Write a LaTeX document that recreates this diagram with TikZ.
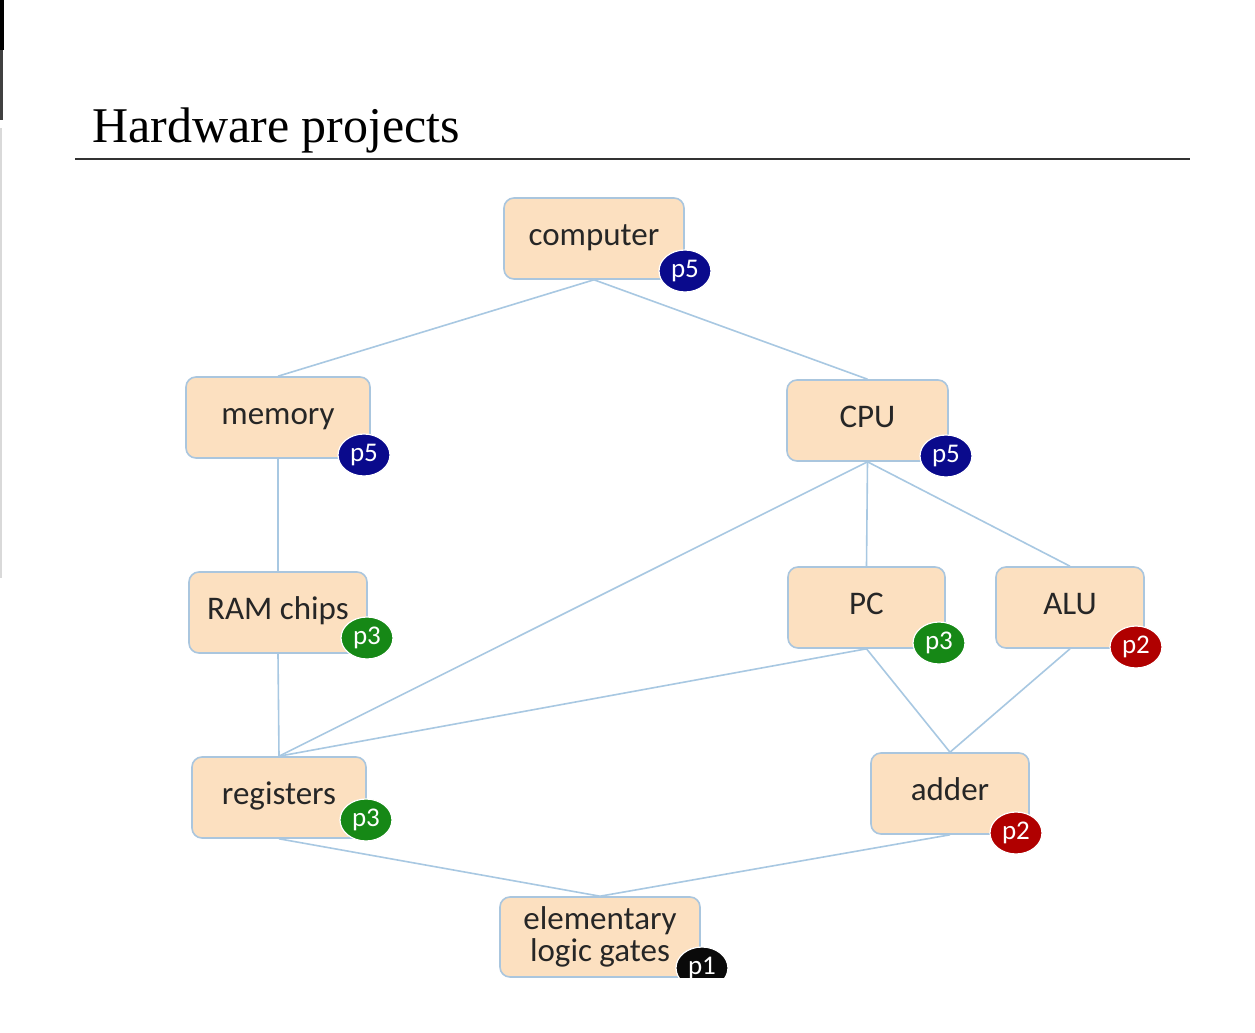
\documentclass[tikz,border=0pt]{standalone}
\usepackage{fontspec}
\setmainfont{Liberation Serif}
\newfontfamily\boxfont{Carlito}
\usetikzlibrary{shapes.geometric}

\definecolor{boxfill}{RGB}{252,224,192}
\definecolor{boxline}{RGB}{170,198,222}
\definecolor{linkcol}{RGB}{168,200,226}
\definecolor{badgeblue}{RGB}{10,10,140}
\definecolor{badgegreen}{RGB}{22,136,22}
\definecolor{badgered}{RGB}{176,0,0}
\definecolor{badgeblack}{RGB}{10,10,10}

\tikzset{
  hwbox/.style={draw=boxline, line width=0.8pt, fill=boxfill, rounded corners=5pt,
    font={\boxfont\fontsize{16.5}{16}\selectfont}, text=black!85, align=center,
    inner sep=0pt},
  oneline/.style={text height=11pt, text depth=4.4pt},
  badge/.style={ellipse, fill=#1, draw=white, line width=0.6pt,
    minimum width=26pt, minimum height=21pt, inner sep=0pt,
    font={\boxfont\fontsize{13.5}{14}\selectfont}, text=white},
  link/.style={draw=linkcol, line width=0.8pt}
}

\begin{document}
\begin{tikzpicture}[x=0.5pt,y=-0.5pt]
  \useasboundingbox (0,0) rectangle (1255,1033);
  \fill[white] (0,0) rectangle (1255,1033);

  % window edge at the left
  \fill[black] (0,0) rectangle (4,50);
  \fill[black!75] (0,50) rectangle (3,120);
  \fill[black!15] (0,128) rectangle (2,578);

  % title and rule
  \node[anchor=base west, font={\fontsize{25}{30}\selectfont}, inner sep=0pt]
    (title) at (92,142) {Hardware projects};
  \coordinate (ruleL) at (75,159);
  \coordinate (ruleR) at (1190,159);
  \draw[black!80, line width=1.4pt] (ruleL) -- (ruleR);

  % project boxes
  \node[hwbox, oneline, minimum width=90pt, minimum height=40.5pt] (computer) at (594,238.5) {computer};
  \node[hwbox, oneline, minimum width=92pt, minimum height=40.5pt] (memory) at (278,417.5) {memory};
  \node[hwbox, oneline, minimum width=80.5pt, minimum height=40.5pt] (cpu) at (867.5,420.5) {CPU};
  \node[hwbox, oneline, minimum width=89pt, minimum height=40.5pt] (ram) at (278,612.5) {RAM chips};
  \node[hwbox, oneline, minimum width=78.5pt, minimum height=40.5pt] (pc) at (866.5,607.5) {PC};
  \node[hwbox, oneline, minimum width=74pt, minimum height=40.5pt] (alu) at (1070,607.5) {ALU};
  \node[hwbox, oneline, minimum width=87pt, minimum height=40.5pt] (registers) at (279,797.5) {registers};
  \node[hwbox, oneline, minimum width=79pt, minimum height=40.5pt] (adder) at (950,793.5) {adder};

  % connectors
  \draw[link] (computer.south) -- (memory.north);
  \draw[link] (computer.south) -- (cpu.north);
  \draw[link] (memory.south) -- (ram.north);
  \draw[link] (ram.south) -- (registers.north);
  \draw[link] (cpu.south) -- (registers.north);
  \draw[link] (cpu.south) -- (pc.north);
  \draw[link] (cpu.south) -- (alu.north);
  \draw[link] (pc.south) -- (registers.north);
  \draw[link] (pc.south) -- (adder.north);
  \draw[link] (alu.south) -- (adder.north);

  % bottom box, cut off at the lower edge
  \begin{scope}
    \clip (0,0) rectangle (1255,977.5);
    \node[hwbox, minimum width=100pt, minimum height=40pt] (gates) at (600,937)
      {elementary\\logic gates};
    \node[badge=badgeblack] (bgates) at (702,968) {p1};
  \end{scope}
  \draw[link] (registers.south) -- (gates.north);
  \draw[link] (adder.south) -- (gates.north);

  % project badges
  \node[badge=badgeblue] (bcomputer) at (685,271) {p5};
  \node[badge=badgeblue] (bmemory) at (364,455) {p5};
  \node[badge=badgeblue] (bcpu) at (946,456) {p5};
  \node[badge=badgegreen] (bram) at (367,638) {p3};
  \node[badge=badgegreen] (bpc) at (939,643) {p3};
  \node[badge=badgered] (balu) at (1136,647) {p2};
  \node[badge=badgegreen] (bregisters) at (366,820) {p3};
  \node[badge=badgered] (badder) at (1016,833) {p2};
\end{tikzpicture}
\end{document}
